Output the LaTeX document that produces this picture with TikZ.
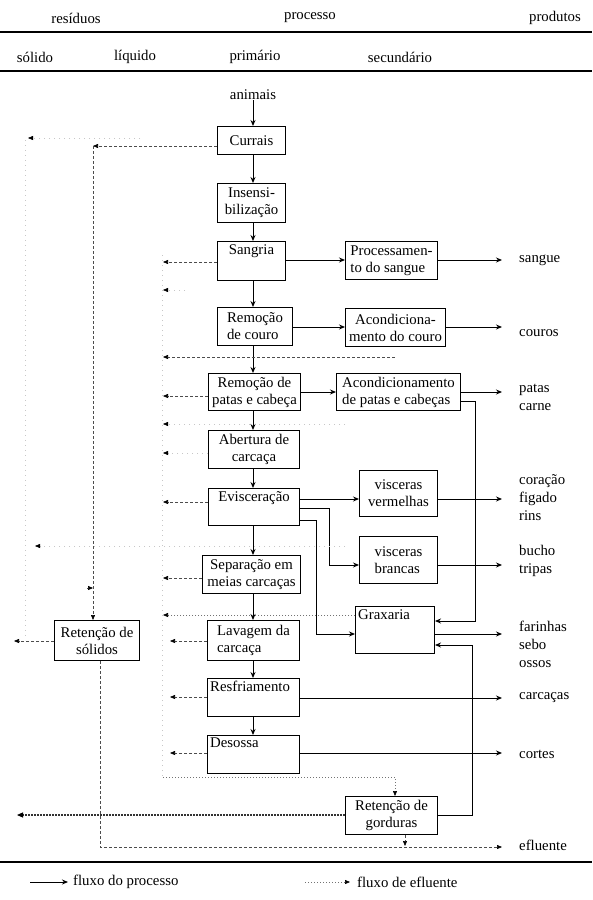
\documentclass[tikz,border=0pt]{standalone}
\usepackage{fontspec}
\setmainfont{Liberation Serif}
\usetikzlibrary{arrows.meta}
\begin{document}
\begin{tikzpicture}[x=1pt,y=-1pt,
  font=\fontsize{14.8}{17}\selectfont,
  box/.style={draw, line width=1pt, inner sep=1pt, anchor=north west},
  flow/.style={line width=0.9pt, -{Stealth[length=6pt,width=5pt]}},
  eff/.style={line width=0.6pt, black!70, dash pattern=on 3pt off 2pt, -{Triangle[length=5pt,width=4pt,black]}},
  effd/.style={line width=0.6pt, black!55, dash pattern=on 1pt off 2pt, -{Triangle[length=5pt,width=4pt,black]}},
  effthick/.style={line width=1.1pt, black!80, dash pattern=on 2pt off 1pt, -{Triangle[length=6pt,width=5pt,black]}},
  faint/.style={line width=0.5pt, black!22, dash pattern=on 1pt off 4pt},
  lt/.style={anchor=north, inner sep=3pt},
  ltl/.style={anchor=north west, inner sep=3pt},
  hdr/.style={inner sep=0pt},
  prod/.style={anchor=west, align=left, inner sep=0pt, font=\fontsize{14.8}{18}\selectfont},
  rule/.style={line width=1.2pt}
]
\useasboundingbox (0,0) rectangle (592,900);

% header
\node[hdr] (hres) at (76,18) {resíduos};
\node[hdr] (hproc) at (310,18) {processo};
\node[hdr] (hprod) at (555,18) {produtos};
\draw[rule] (0,32) -- (592,32);
\node[hdr] (hsol) at (35,57) {sólido};
\node[hdr] (hliq) at (135,57) {líquido};
\node[hdr] (hpri) at (255,57) {primário};
\node[hdr] (hsec) at (400,57) {secundário};
\draw[rule] (0,71) -- (592,71);
\draw[rule] (0,862) -- (592,862);

\coordinate (mx) at (253,0);
\coordinate (px) at (502,0);

% primary boxes
\node[hdr] (animais) at (253,95) {animais};
\node[box, minimum width=68, minimum height=28] (currais) at (217,126) {Currais};
\node[box, minimum width=68, minimum height=39, align=center] (insens) at (217,183) {Insensi-\\bilização};
\node[box, minimum width=68, minimum height=39, label={[lt]north:Sangria}] (sangria) at (217,241) {};
\node[box, minimum width=75, minimum height=38, align=left] (remcouro) at (217,307) {Remoção\\de couro};
\node[box, minimum width=92, minimum height=37, align=center] (rempatas) at (208,373) {Remoção de\\patas e cabeça};
\node[box, minimum width=91, minimum height=38, align=center] (abert) at (208,430) {Abertura de\\carcaça};
\node[box, minimum width=91, minimum height=37, label={[lt]north:Evisceração}] (evisc) at (208,488) {};
\node[box, minimum width=98, minimum height=38, align=center] (separ) at (202,555) {Separação em\\meias carcaças};
\node[box, minimum width=92, minimum height=40, align=left] (lavag) at (207,620) {Lavagem da\\carcaça};
\node[box, minimum width=92, minimum height=38, label={[ltl]north west:Resfriamento}] (resfr) at (207,678) {};
\node[box, minimum width=92, minimum height=38, label={[ltl]north west:Desossa}] (desossa) at (207,735) {};

% secondary boxes
\node[box, minimum width=92, minimum height=38, align=left] (procsang) at (345,241) {Processamen-\\to do sangue};
\node[box, minimum width=100, minimum height=38, align=center] (acouro) at (345,308) {Acondiciona-\\mento do couro};
\node[box, minimum width=124, minimum height=37, align=left] (apatas) at (336,373) {Acondicionamento\\de patas e cabeças};
\node[box, minimum width=78, minimum height=46, align=center] (vverm) at (359,470) {visceras\\vermelhas};
\node[box, minimum width=78, minimum height=47, align=left] (vbranc) at (359,536) {visceras\\brancas};
\node[box, minimum width=79, minimum height=47, label={[ltl]north west:Graxaria}] (grax) at (355,606) {};
\node[box, minimum width=92, minimum height=38, align=center] (retgord) at (345,796) {Retenção de\\gorduras};
\node[box, minimum width=85, minimum height=40, align=center] (retsol) at (54,620) {Retenção de\\sólidos};

% products
\node[prod] (psang) at (519,260) {sangue};
\node[prod] (pcouro) at (519,333) {couros};
\node[prod] (ppatas) at (519,397) {patas\\carne};
\node[prod] (pverm) at (519,498) {coração\\figado\\rins};
\node[prod] (pbranc) at (519,561) {bucho\\tripas};
\node[prod] (pgrax) at (519,644) {farinhas\\sebo\\ossos};
\node[prod] (pcarc) at (519,698) {carcaças};
\node[prod] (pcort) at (519,754) {cortes};
\node[prod] (pefl) at (519,845) {efluente};

% main process flow
\draw[flow] (animais.south -| mx) -- (currais.north -| mx);
\draw[flow] (currais.south -| mx) -- (insens.north -| mx);
\draw[flow] (insens.south -| mx) -- (sangria.north -| mx);
\draw[flow] (sangria.south -| mx) -- (remcouro.north -| mx);
\draw[flow] (remcouro.south -| mx) -- (rempatas.north -| mx);
\draw[flow] (rempatas.south -| mx) -- (abert.north -| mx);
\draw[flow] (abert.south -| mx) -- (evisc.north -| mx);
\draw[flow] (evisc.south -| mx) -- (separ.north -| mx);
\draw[flow] (separ.south -| mx) -- (lavag.north -| mx);
\draw[flow] (lavag.south -| mx) -- (resfr.north -| mx);
\draw[flow] (resfr.south -| mx) -- (desossa.north -| mx);

% to secondary
\draw[flow] (sangria.east |- 0,260) -- (procsang.west |- 0,260);
\draw[flow] (remcouro.east |- 0,327) -- (acouro.west |- 0,327);
\draw[flow] (rempatas.east |- 0,392) -- (apatas.west |- 0,392);
\draw[flow] (evisc.east |- 0,499) -- (vverm.west |- 0,499);
\draw[flow] (evisc.east |- 0,508) -- (329,508) -- (329,565) -- (vbranc.west |- 0,565);
\draw[flow] (evisc.east |- 0,520) -- (316,520) -- (316,634) -- (grax.west |- 0,634);
\draw[flow] (apatas.east |- 0,401) -- (475,401) -- (475,621) -- (grax.east |- 0,621);
\draw[flow] (retgord.east |- 0,815) -- (472,815) -- (472,645) -- (grax.east |- 0,645);

% to products
\draw[flow] (procsang.east |- 0,260) -- (px |- 0,260);
\draw[flow] (acouro.east |- 0,327) -- (px |- 0,327);
\draw[flow] (apatas.east |- 0,392) -- (px |- 0,392);
\draw[flow] (vverm.east |- 0,499) -- (px |- 0,499);
\draw[flow] (vbranc.east |- 0,565) -- (px |- 0,565);
\draw[flow] (grax.east |- 0,634) -- (px |- 0,634);
\draw[flow] (resfr.east |- 0,698) -- (px |- 0,698);
\draw[flow] (desossa.east |- 0,753) -- (px |- 0,753);

% faint collectors
\draw[faint] (162,255) -- (162,777);
\draw[faint] (25,140) -- (25,640);

% effluent / waste flows
\draw[eff] (currais.west |- 0,146) -- (93,146);
\draw[eff] (93,146) -- (retsol.north -| 93,0);
\draw[eff] (87,588) -- (93,588);
\draw[faint, -{Triangle[length=5pt,width=4pt,black]}] (140,138) -- (28,138);
\draw[eff] (sangria.west |- 0,262) -- (163,262);
\draw[faint, -{Triangle[length=5pt,width=4pt,black]}] (185,290) -- (163,290);
\draw[eff] (395,357) -- (163,357);
\draw[eff] (rempatas.west |- 0,396) -- (163,396);
\draw[faint, -{Triangle[length=5pt,width=4pt,black]}] (345,424) -- (163,424);
\draw[faint, -{Triangle[length=5pt,width=4pt,black]}] (abert.west |- 0,453) -- (163,453);
\draw[eff] (evisc.west |- 0,502) -- (163,502);
\draw[faint, -{Triangle[length=5pt,width=4pt,black]}] (345,546) -- (35,546);
\draw[eff] (separ.west |- 0,578) -- (163,578);
\draw[effd] (grax.west |- 0,615) -- (163,615);
\draw[eff] (lavag.west |- 0,641) -- (170,641);
\draw[eff] (resfr.west |- 0,697) -- (170,697);
\draw[eff] (desossa.west |- 0,753) -- (170,753);
\draw[effd] (163,777) -- (395,777) -- (retgord.north -| 395,0);
\draw[effthick] (retgord.west |- 0,815) -- (17,815);
\draw[eff] (retsol.west |- 0,641) -- (14,641);
\draw[eff] (retsol.south -| 100,0) -- (100,847) -- (px |- 0,847);
\draw[eff] (retgord.south -| 405,0) -- (405,846);

% legend
\coordinate (l1a) at (30,882);
\coordinate (l1b) at (68,882);
\draw[flow] (l1a) -- (l1b);
\node[anchor=west, inner sep=0pt] (leg1) at (73,882) {fluxo do processo};
\coordinate (l2a) at (305,882);
\coordinate (l2b) at (350,882);
\draw[effd] (l2a) -- (l2b);
\node[anchor=west, inner sep=0pt] (leg2) at (357,882) {fluxo de efluente};
\end{tikzpicture}
\end{document}
